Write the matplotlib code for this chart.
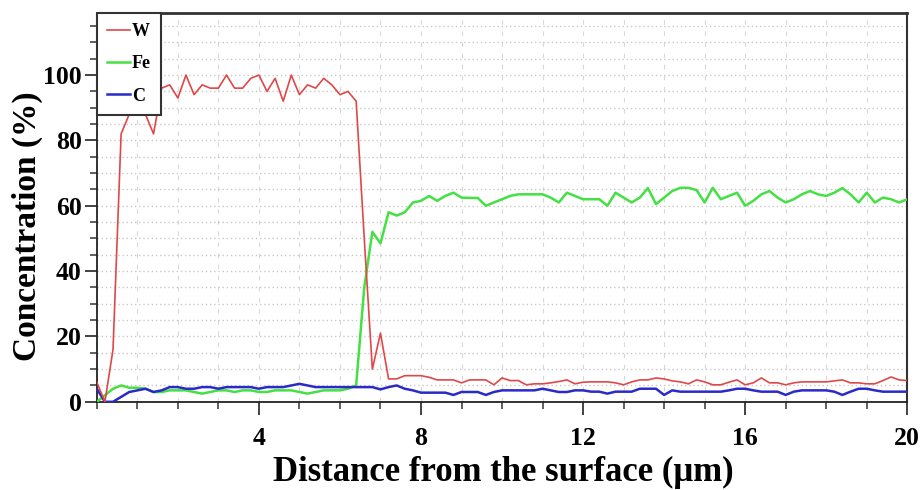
import numpy as np
import matplotlib.pyplot as plt
from matplotlib.ticker import MultipleLocator, FixedLocator

# --- Data (step 0.2 um) ---
distance = np.round(np.arange(0, 20.01, 0.2), 1)

w_conc = [6, 0, 16, 82, 88, 88, 88, 82, 96, 97,
          93, 100, 94, 97, 96, 96, 100, 96, 96, 99,
          100, 95, 99, 92, 100, 94, 97, 96, 99, 97,
          94, 95, 92, 50, 10, 21, 7, 7, 8, 8,
          8, 7.5, 6.7, 6.7, 6.7, 5.8, 6.7, 6.7, 6.7, 5.2,
          7.3, 6.5, 6.5, 5.2, 5.5, 5.5, 5.8, 6.2, 6.7, 5.5,
          6, 6.1, 6.1, 6.1, 5.8, 5.2, 6.1, 6.7, 6.7, 7.3,
          7, 6.4, 6.1, 5.5, 6.7, 6.1, 5.2, 5.2, 6, 6.7,
          5.2, 5.8, 7.3, 5.8, 5.8, 5.2, 5.8, 6.1, 6.1, 6.1,
          6.1, 6.4, 6.7, 5.8, 5.8, 5.5, 5.5, 6.5, 7.6, 6.7,
          6.5]

fe_conc = [0, 2, 4, 5, 4.3, 4.3, 4, 3, 3, 3.5,
           3.5, 3.5, 3, 2.5, 3, 3.5, 3.5, 3, 3.5, 3.5,
           3, 3, 3.5, 3.5, 3.5, 3, 2.5, 3, 3.5, 3.5,
           3.5, 4, 5, 35, 52, 48.5, 58, 57, 58, 61,
           61.5, 63, 61.5, 63, 64, 62.5, 62.4, 62.4, 60, 61,
           62, 63, 63.5, 63.5, 63.5, 63.5, 62.5, 61, 64, 63,
           62, 62, 62, 60, 64, 62.5, 61, 62.5, 65.4, 60.5,
           62.5, 64.5, 65.5, 65.5, 64.8, 61, 65.5, 62, 63, 64,
           60, 61.5, 63.5, 64.5, 62.5, 61, 62, 63.5, 64.5, 63.5,
           63, 64, 65.4, 63.5, 61, 64, 61, 62.5, 62, 61,
           62]

c_conc = [4, 0, 0, 1.5, 3, 3.5, 4, 3, 3.5, 4.5,
          4.5, 4, 4, 4.5, 4.5, 4, 4.5, 4.5, 4.5, 4.5,
          4, 4.5, 4.5, 4.5, 5, 5.5, 5, 4.5, 4.5, 4.5,
          4.5, 4.5, 4.5, 4.5, 4.5, 3.8, 4.5, 5, 4, 3.5,
          2.8, 2.8, 2.8, 2.8, 2.1, 3, 3, 3, 2.1, 3,
          3.5, 3.5, 3.5, 3.5, 3.5, 4, 3.5, 3, 3, 3.5,
          3.5, 3.1, 3.1, 2.5, 3.1, 3.1, 3.1, 4, 4, 4,
          2.1, 3.5, 3.1, 3.1, 3.1, 3.1, 3.1, 3.1, 3.5, 4,
          4, 3.5, 3.1, 3.1, 3.1, 2.1, 3.1, 3.5, 3.5, 3.5,
          3.5, 3.1, 2.1, 3.1, 4, 4, 3.5, 3.1, 3.1, 3.1,
          3.1]

x_major = [4, 8, 12, 16, 20]
y_major = [0, 20, 40, 60, 80, 100]

plt.rcParams['font.family'] = ['Liberation Serif', 'DejaVu Serif']
plt.rcParams['font.weight'] = 'bold'

fig = plt.figure(figsize=(9.22, 4.9), dpi=100)
ax = fig.add_axes([0.105, 0.18, 0.879, 0.7935])

ax.plot(distance, w_conc, color='#e04848', lw=1.2, label='W', zorder=4)
ax.plot(distance, fe_conc, color='#44e044', lw=1.8, label='Fe', zorder=3)
ax.plot(distance, c_conc, color='#2a2ac8', lw=1.8, label='C', zorder=3)

ax.set_xlim(0, 20)
ax.set_ylim(0, 119)

ax.xaxis.set_major_locator(FixedLocator(x_major))
ax.xaxis.set_minor_locator(MultipleLocator(1))
ax.yaxis.set_major_locator(FixedLocator(y_major))
ax.yaxis.set_minor_locator(MultipleLocator(5))

# grid: dotted horizontals every 5 %, dashed verticals every 1 um
ax.grid(which='both', axis='y', color='#c8c8c8', linestyle=(0, (1, 2)), lw=1.0)
ax.grid(which='both', axis='x', color='#d8d8d8', linestyle=(0, (4, 6)), lw=0.8)
ax.set_axisbelow(True)

ax.tick_params(axis='both', which='major', direction='out', length=9, width=1.2,
               labelsize=18.5, colors='#222222', labelcolor='black')
ax.tick_params(axis='both', which='minor', direction='out', length=5, width=1.2,
               colors='#444444')
ax.tick_params(axis='x', which='major', pad=9)
ax.tick_params(axis='y', which='major', pad=2)

for side in ['left', 'bottom']:
    ax.spines[side].set_color('#222222')
    ax.spines[side].set_linewidth(1.3)
ax.spines['top'].set_color('#333333')
ax.spines['top'].set_linewidth(2.0)
ax.spines['right'].set_color('#333333')
ax.spines['right'].set_linewidth(1.5)

ax.set_xlabel('Distance from the surface (\u03bcm)', fontsize=25, fontweight='bold')
ax.xaxis.set_label_coords(0.502, -0.14)
ax.xaxis.label.set_va('top')
ax.set_ylabel('Concentration (%)', fontsize=24, fontweight='bold')
ax.yaxis.set_label_coords(-0.066, 0.452)

leg = ax.legend(loc='upper left', bbox_to_anchor=(0, 1), borderaxespad=0,
                prop={'family': 'Liberation Serif', 'weight': 'bold', 'size': 13},
                handlelength=1.3, handletextpad=0.1, labelspacing=0.85,
                borderpad=0.55, fancybox=False, framealpha=1)
leg.get_frame().set_edgecolor('#333333')
leg.get_frame().set_linewidth(1.5)

fig.savefig('out.png', dpi=100)
